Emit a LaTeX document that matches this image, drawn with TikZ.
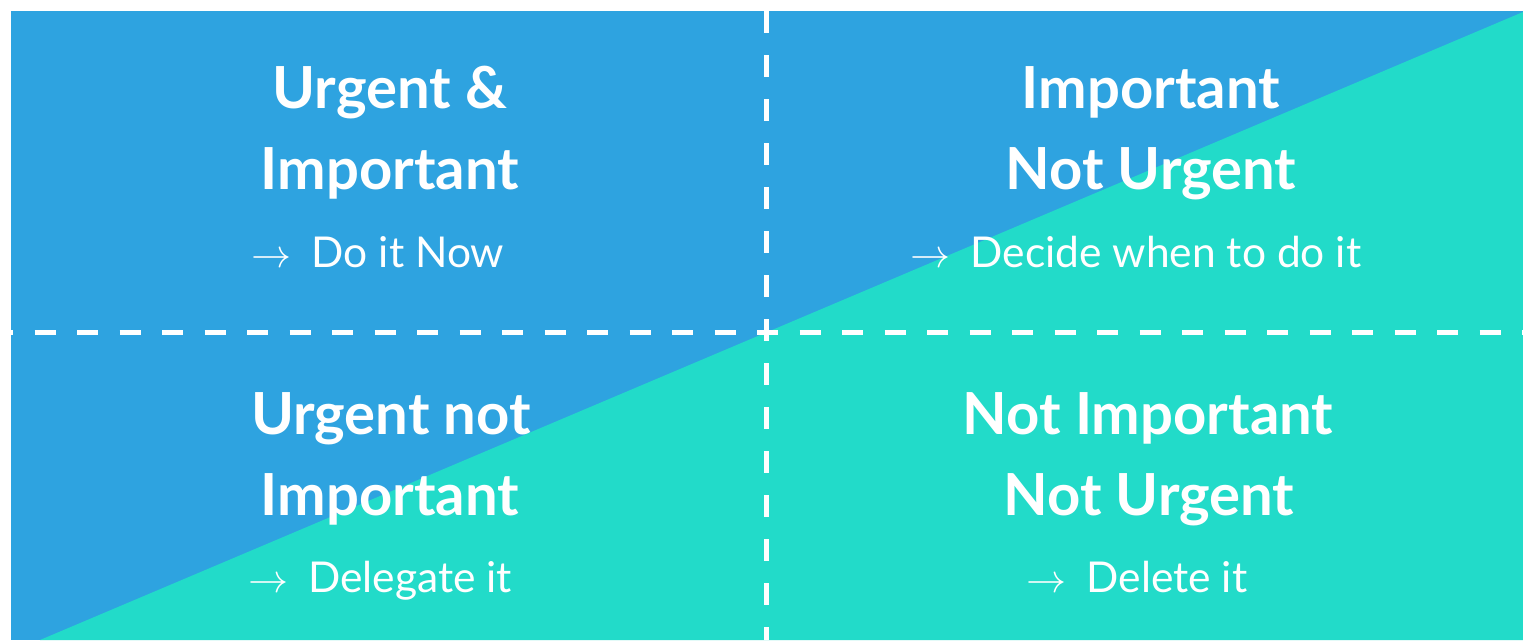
\documentclass[tikz,border=0pt]{standalone}
\usepackage{fontspec}
\setmainfont{Lato}
\usepackage{graphicx}
\definecolor{quadblue}{HTML}{2EA3E0}
\definecolor{quadteal}{HTML}{22DBC9}
\newcommand{\arr}{{\normalsize\scalebox{4}{$\rightarrow$}}\hspace{20pt}}

\begin{document}
\begin{tikzpicture}[
  x=1pt, y=-1pt,
  heading/.style={anchor=base, text=white, inner sep=0pt, font=\fontsize{58}{62}\selectfont\bfseries},
  action/.style={anchor=base, text=white, inner sep=0pt, font=\fontsize{42.5}{46}\selectfont},
  divider/.style={white, line width=5pt, dash pattern=on 22pt off 22pt}
]
  \useasboundingbox (0,0) rectangle (1523,640);
  \fill[quadblue] (11,11) rectangle (1523,640);
  \fill[quadteal] (40,640) -- (1523,12) -- (1523,640) -- cycle;

  \coordinate (vtop) at (766,11);
  \coordinate (vbot) at (766,640);
  \coordinate (hleft) at (-8,332);
  \coordinate (hright) at (1523,332);
  \draw[divider] (vtop) -- (vbot);
  \draw[divider, dash pattern=on 21pt off 21.5pt] (hleft) -- (hright);

  \node[heading] (do-a) at (390,108) {Urgent \&};
  \node[heading] (do-b) at (390,189) {Important};
  \node[action] (do-c) at (378,267) {\arr Do it Now};

  \node[heading] (plan-a) at (1151,108) {Important};
  \node[heading] (plan-b) at (1151,189) {Not Urgent};
  \node[action] (plan-c) at (1136,267) {\arr Decide when to do it};

  \node[heading] (delegate-a) at (391,434) {Urgent not};
  \node[heading] (delegate-b) at (390,515) {Important};
  \node[action] (delegate-c) at (380,592) {\arr Delegate it};

  \node[heading] (delete-a) at (1148,434) {Not Important};
  \node[heading] (delete-b) at (1149,515) {Not Urgent};
  \node[action] (delete-c) at (1137,592) {\arr Delete it};
\end{tikzpicture}
\end{document}
